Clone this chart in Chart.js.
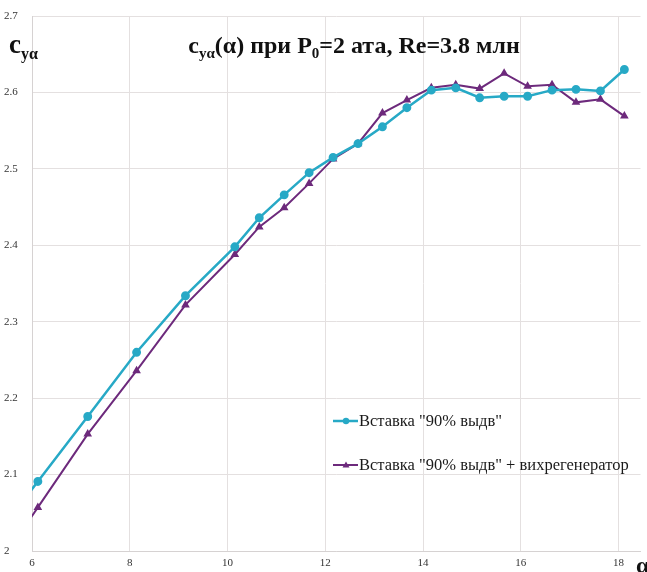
<!DOCTYPE html>
<html>
<head>
<meta charset="utf-8">
<script src="https://cdn.jsdelivr.net/npm/chart.js@4/dist/chart.umd.min.js"></script>
<style>
  html, body { margin: 0; padding: 0; background: #fff; }
  #wrap { width: 647px; height: 572px; position: relative; }
</style>
</head>
<body>
<div id="wrap"><canvas id="myChart"></canvas></div>
<script>
// angle of attack, deg (first point lies left of the axis and is clipped, as in the original)
const alphaDeg = [5.1, 6.12, 7.14, 8.14, 9.14, 10.15, 10.65, 11.16, 11.67, 12.16, 12.67,
                  13.17, 13.67, 14.17, 14.67, 15.16, 15.66, 16.14, 16.64, 17.13, 17.63, 18.12];
// c_ya for insert "90% выдв"
const cyInsert = [2.006, 2.091, 2.176, 2.260, 2.334, 2.398, 2.436, 2.466, 2.495, 2.515, 2.533,
                  2.555, 2.580, 2.603, 2.606, 2.593, 2.595, 2.595, 2.603, 2.604, 2.602, 2.630];
// c_ya for insert "90% выдв" + vortex generator
const cyVortex = [1.962, 2.057, 2.153, 2.236, 2.322, 2.388, 2.424, 2.449, 2.481, 2.513, 2.533,
                  2.573, 2.590, 2.606, 2.610, 2.605, 2.625, 2.608, 2.610, 2.587, 2.591, 2.569];
const seriesNames = ['Вставка "90% выдв"', 'Вставка "90% выдв" + вихрегенератор'];
const xTicks = [6, 8, 10, 12, 14, 16, 18];
const yTicks = [2, 2.1, 2.2, 2.3, 2.4, 2.5, 2.6, 2.7];

const CYAN = '#27a9c6';
const PURPLE = '#6d2a7c';
const SERIF = '"Liberation Serif", "Times New Roman", serif';

function toPoints(xs, ys) {
  return xs.map((x, i) => ({ x: x, y: ys[i] }));
}

// draws text with subscripts: parts = [[text, size, dy], ...]
function drawRich(ctx, parts, x, y, align) {
  let total = 0;
  parts.forEach(p => {
    ctx.font = 'bold ' + p[1] + 'px ' + SERIF;
    total += ctx.measureText(p[0]).width;
  });
  let cx = align === 'center' ? x - total / 2 : x;
  ctx.textAlign = 'left';
  ctx.textBaseline = 'alphabetic';
  parts.forEach(p => {
    ctx.font = 'bold ' + p[1] + 'px ' + SERIF;
    ctx.fillText(p[0], cx, y + p[2]);
    cx += ctx.measureText(p[0]).width;
  });
}

const textPlugin = {
  id: 'texts',
  afterDraw(chart) {
    const ctx = chart.ctx;
    ctx.save();
    ctx.fillStyle = '#111';
    // title
    drawRich(ctx, [['c', 24, 0], ['yα', 15, 5], ['(α) при P', 24, 0], ['0', 15, 5],
                   ['=2 ата, Re=3.8 млн', 24, 0]], 354, 53, 'center');
    // axis names
    drawRich(ctx, [['c', 27, 0], ['yα', 16, 6], ], 9, 53, 'left');
    drawRich(ctx, [['α', 24, 0]], 636, 573, 'left');

    // legend inside plot
    const legY = [421, 465];
    chart.data.datasets.forEach((ds, i) => {
      const y = legY[i];
      ctx.strokeStyle = ds.borderColor;
      ctx.lineWidth = ds.borderWidth;
      ctx.beginPath();
      ctx.moveTo(333, y);
      ctx.lineTo(358, y);
      ctx.stroke();
      ctx.fillStyle = ds.borderColor;
      ctx.beginPath();
      if (ds.pointStyle === 'triangle') {
        ctx.moveTo(346, y - 3.5); ctx.lineTo(349.5, y + 2.5); ctx.lineTo(342.5, y + 2.5);
      } else {
        ctx.arc(346, y, 3.2, 0, Math.PI * 2);
      }
      ctx.fill();
      ctx.fillStyle = '#1a1a1a';
      ctx.font = '16.5px ' + SERIF;
      ctx.textAlign = 'left';
      ctx.textBaseline = 'middle';
      ctx.fillText(ds.label, 359, y + 1);
    });
    ctx.restore();
  }
};

new Chart('myChart', {
  type: 'line',
  data: {
    datasets: [{
      label: seriesNames[0],
      data: toPoints(alphaDeg, cyInsert),
      borderColor: CYAN,
      backgroundColor: CYAN,
      borderWidth: 2.5,
      pointStyle: 'circle',
      pointRadius: 3.2,
      tension: 0
    }, {
      label: seriesNames[1],
      data: toPoints(alphaDeg, cyVortex),
      borderColor: PURPLE,
      backgroundColor: PURPLE,
      borderWidth: 2,
      pointStyle: 'triangle',
      pointRadius: 3,
      tension: 0
    }]
  },
  options: {
    responsive: true,
    maintainAspectRatio: false,
    animation: false,
    devicePixelRatio: 1,
    layout: { padding: { left: 4, top: 16, right: 6, bottom: 0 } },
    plugins: { legend: { display: false }, tooltip: { enabled: false } },
    scales: {
      x: {
        type: 'linear',
        min: 6,
        max: 18.45,
        afterBuildTicks: s => { s.ticks = xTicks.map(v => ({ value: v })); },
        afterFit: s => { s.height = 21; },
        ticks: { color: '#333', font: { family: SERIF, size: 11 }, padding: 6 },
        grid: { color: '#e4e0e0', drawTicks: false },
        border: { color: '#d6d2d2' }
      },
      y: {
        min: 2,
        max: 2.7,
        afterBuildTicks: s => { s.ticks = yTicks.map(v => ({ value: v })); },
        afterFit: s => { s.width = 28; },
        ticks: {
          color: '#333',
          font: { family: SERIF, size: 11 },
          crossAlign: 'far',
          callback: v => String(Math.round(v * 10) / 10)
        },
        grid: { color: '#e4e0e0', drawTicks: false },
        border: { color: '#d6d2d2' }
      }
    }
  },
  plugins: [textPlugin]
});
</script>
</body>
</html>
